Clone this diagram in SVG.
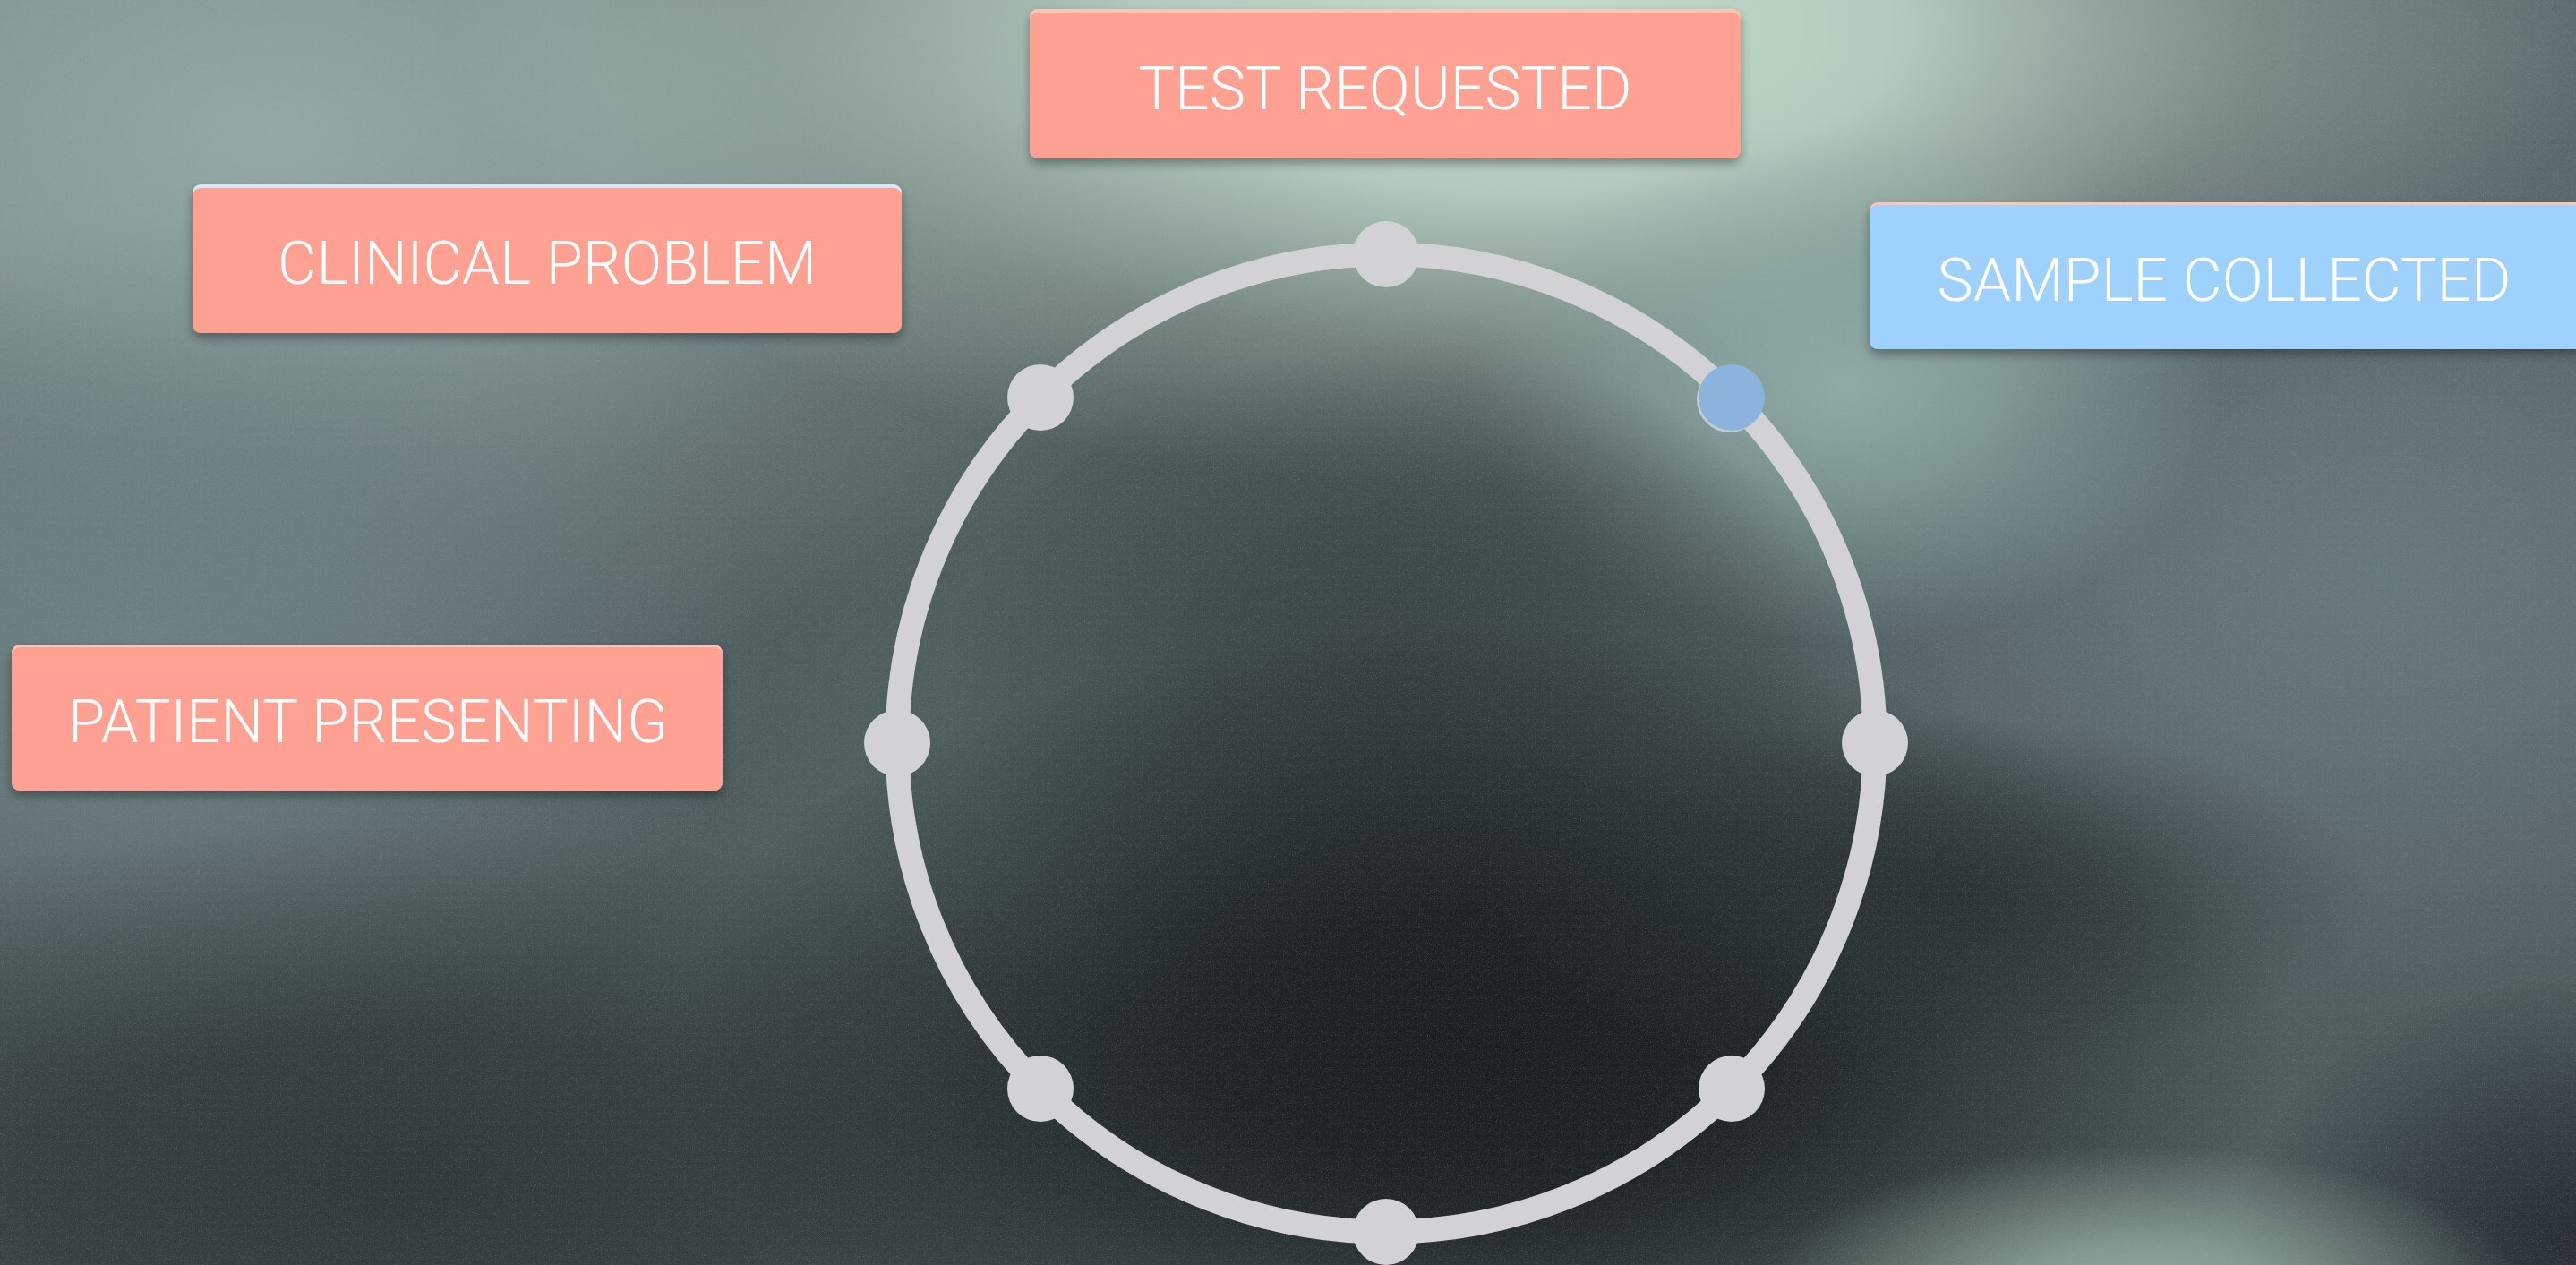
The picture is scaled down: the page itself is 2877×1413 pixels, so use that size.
<svg xmlns="http://www.w3.org/2000/svg" width="2877" height="1413" viewBox="0 0 2877 1413">
  <defs>
    <!-- soft colour pools for the backdrop -->
    <radialGradient id="gTeal"><stop offset="0" stop-color="#93a9a6"/><stop offset="0.35" stop-color="#93a9a6" stop-opacity="0.8"/><stop offset="0.7" stop-color="#93a9a6" stop-opacity="0.3"/><stop offset="1" stop-color="#93a9a6" stop-opacity="0"/></radialGradient>
    <radialGradient id="gMint"><stop offset="0" stop-color="#c6decd"/><stop offset="0.35" stop-color="#c6decd" stop-opacity="0.85"/><stop offset="0.7" stop-color="#c6decd" stop-opacity="0.3"/><stop offset="1" stop-color="#c6decd" stop-opacity="0"/></radialGradient>
    <radialGradient id="gSlate"><stop offset="0" stop-color="#6c8082"/><stop offset="0.4" stop-color="#6c8082" stop-opacity="0.75"/><stop offset="1" stop-color="#6c8082" stop-opacity="0"/></radialGradient>
    <radialGradient id="gSlateR"><stop offset="0" stop-color="#66797d"/><stop offset="0.4" stop-color="#66797d" stop-opacity="0.75"/><stop offset="1" stop-color="#66797d" stop-opacity="0"/></radialGradient>
    <radialGradient id="gSea"><stop offset="0" stop-color="#8eaaa6"/><stop offset="0.4" stop-color="#8eaaa6" stop-opacity="0.7"/><stop offset="1" stop-color="#8eaaa6" stop-opacity="0"/></radialGradient>
    <radialGradient id="gMoss"><stop offset="0" stop-color="#4e5e5c"/><stop offset="0.4" stop-color="#4e5e5c" stop-opacity="0.7"/><stop offset="1" stop-color="#4e5e5c" stop-opacity="0"/></radialGradient>
    <radialGradient id="gShade"><stop offset="0" stop-color="#394346"/><stop offset="0.4" stop-color="#394346" stop-opacity="0.75"/><stop offset="1" stop-color="#394346" stop-opacity="0"/></radialGradient>
    <radialGradient id="gDeep"><stop offset="0" stop-color="#1a1e20"/><stop offset="0.35" stop-color="#1a1e20" stop-opacity="0.9"/><stop offset="0.7" stop-color="#1a1e20" stop-opacity="0.4"/><stop offset="1" stop-color="#1a1e20" stop-opacity="0"/></radialGradient>
    <radialGradient id="gCoal"><stop offset="0" stop-color="#30383b"/><stop offset="0.4" stop-color="#30383b" stop-opacity="0.8"/><stop offset="1" stop-color="#30383b" stop-opacity="0"/></radialGradient>
    <radialGradient id="gBand"><stop offset="0" stop-color="#2a3234"/><stop offset="0.4" stop-color="#2a3234" stop-opacity="0.6"/><stop offset="1" stop-color="#2a3234" stop-opacity="0"/></radialGradient>
    <radialGradient id="gCorner"><stop offset="0" stop-color="#282e34"/><stop offset="0.4" stop-color="#282e34" stop-opacity="0.7"/><stop offset="1" stop-color="#282e34" stop-opacity="0"/></radialGradient>
    <radialGradient id="gGlow"><stop offset="0" stop-color="#94aea2"/><stop offset="0.35" stop-color="#94aea2" stop-opacity="0.75"/><stop offset="1" stop-color="#94aea2" stop-opacity="0"/></radialGradient>
    <radialGradient id="gSteel"><stop offset="0" stop-color="#5c6e70"/><stop offset="0.4" stop-color="#5c6e70" stop-opacity="0.7"/><stop offset="1" stop-color="#5c6e70" stop-opacity="0"/></radialGradient>

    <filter id="grain" x="0" y="0" width="100%" height="100%">
      <feTurbulence type="fractalNoise" baseFrequency="0.9" numOctaves="2" seed="3"/>
      <feColorMatrix type="matrix" values="0 0 0 0 0.5  0 0 0 0 0.5  0 0 0 0 0.5  0.6 0.6 0.6 0 -0.9"/>
    </filter>
    <filter id="boxShadow" x="-10%" y="-30%" width="120%" height="170%">
      <feGaussianBlur in="SourceAlpha" stdDeviation="6"/>
      <feOffset dx="0" dy="6" result="b"/>
      <feComponentTransfer><feFuncA type="linear" slope="0.35"/></feComponentTransfer>
      <feMerge><feMergeNode/><feMergeNode in="SourceGraphic"/></feMerge>
    </filter>
    <style>
      .box-red { fill: #fea193; }
      .box-blue { fill: #9fd1fd; }
      .edge-pink { fill: #ffc3b8; }
      .edge-blue { fill: #d9e6f3; }
      .label { font-family: Roboto, "Liberation Sans", sans-serif; font-weight: 300; font-size: 66px; fill: #ffffff; text-anchor: middle; }
      .ring { fill: none; stroke: #d2d2d6; stroke-width: 27; }
      .dot { fill: #d2d2d6; }
      .dot-active { fill: #8ab4dc; }
    </style>
  </defs>

  <!-- backdrop: soft mottled grey-green wash -->
  <rect x="0" y="0" width="2877" height="1413" fill="#4e5c5e"/>
  <g id="backdrop">
    <ellipse cx="300" cy="150" rx="1100" ry="650" fill="url(#gTeal)"/>
    <ellipse cx="2800" cy="60" rx="500" ry="350" fill="url(#gSteel)"/>
    <ellipse cx="1700" cy="30" rx="1200" ry="520" fill="url(#gMint)"/>
    <ellipse cx="150" cy="720" rx="700" ry="480" fill="url(#gSlate)"/>
    <ellipse cx="2650" cy="640" rx="700" ry="500" fill="url(#gSlateR)"/>
    <ellipse cx="2060" cy="430" rx="420" ry="290" fill="url(#gSea)"/>
    <ellipse cx="1250" cy="900" rx="500" ry="400" fill="url(#gMoss)"/>
    <ellipse cx="1560" cy="760" rx="500" ry="380" fill="url(#gShade)"/>
    <ellipse cx="450" cy="1320" rx="1000" ry="400" fill="url(#gCoal)"/>
    <ellipse cx="1650" cy="1170" rx="900" ry="470" fill="url(#gDeep)"/>
    <ellipse cx="2150" cy="1000" rx="500" ry="200" fill="url(#gBand)"/>
    <ellipse cx="2877" cy="1390" rx="380" ry="300" fill="url(#gCorner)"/>
    <ellipse cx="2390" cy="1450" rx="430" ry="170" fill="url(#gGlow)"/>
    <rect x="0" y="0" width="2877" height="1413" filter="url(#grain)" opacity="0.5"/>
  </g>

  <!-- the cycle ring -->
  <g id="connectors">
    <circle class="ring" cx="1548" cy="830" r="546"/>
  </g>

  <!-- stage markers around the ring -->
  <g id="markers">
    <circle id="dot-top" class="dot" cx="1548" cy="284" r="37"/>
    <g id="dot-upper-right">
      <circle cx="1932" cy="446" r="37" fill="#c8ccce"/>
      <circle class="dot-active" cx="1934" cy="444" r="37"/>
    </g>
    <circle id="dot-right" class="dot" cx="2094" cy="830" r="37"/>
    <circle id="dot-lower-right" class="dot" cx="1934" cy="1216" r="37"/>
    <circle id="dot-bottom" class="dot" cx="1548" cy="1376" r="37"/>
    <circle id="dot-lower-left" class="dot" cx="1162" cy="1216" r="37"/>
    <circle id="dot-left" class="dot" cx="1002" cy="830" r="37"/>
    <circle id="dot-upper-left" class="dot" cx="1162" cy="444" r="37"/>
  </g>

  <!-- stage labels -->
  <g id="test-requested" filter="url(#boxShadow)">
    <rect class="edge-pink" x="1150" y="10" width="794" height="164" rx="9"/>
    <rect class="box-red" x="1150" y="14" width="794" height="163" rx="9"/>
    <text class="label" x="1547" y="122" textLength="551" lengthAdjust="spacingAndGlyphs">TEST REQUESTED</text>
  </g>

  <g id="clinical-problem" filter="url(#boxShadow)">
    <rect class="edge-blue" x="215" y="206" width="792" height="164" rx="9"/>
    <rect class="box-red" x="215" y="210" width="792" height="162" rx="9"/>
    <text class="label" x="611" y="317" textLength="602" lengthAdjust="spacingAndGlyphs">CLINICAL PROBLEM</text>
  </g>

  <g id="sample-collected" filter="url(#boxShadow)">
    <rect class="edge-pink" x="2088" y="226" width="800" height="163" rx="9"/>
    <rect class="box-blue" x="2088" y="229" width="800" height="161" rx="9"/>
    <text class="label" x="2484" y="336" textLength="641" lengthAdjust="spacingAndGlyphs">SAMPLE COLLECTED</text>
  </g>

  <g id="patient-presenting" filter="url(#boxShadow)">
    <rect class="edge-pink" x="13" y="720" width="794" height="163" rx="9"/>
    <rect class="box-red" x="13" y="723" width="794" height="160" rx="9"/>
    <text class="label" x="411" y="829" textLength="670" lengthAdjust="spacingAndGlyphs">PATIENT PRESENTING</text>
  </g>
</svg>
